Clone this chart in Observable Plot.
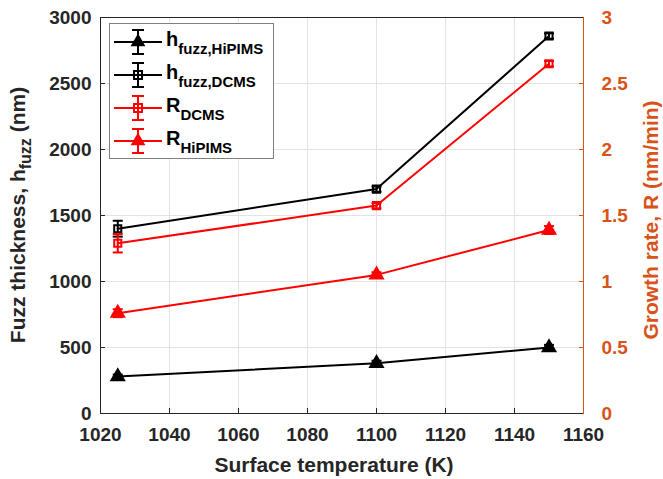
<!DOCTYPE html>
<html><head><meta charset="utf-8">
<script src="https://cdn.jsdelivr.net/npm/d3@7"></script>
<script src="https://cdn.jsdelivr.net/npm/@observablehq/plot@0.6"></script>
<style>body{margin:0;background:#fff}</style>
</head><body><div id="chart"></div>
<script>
const temps = [1025, 1100, 1150];
const hHiPIMS = [280, 380, 500];
const hHiPIMSErr = [15, 20, 20];
const hDCMS = [1400, 1700, 2860];
const hDCMSErr = [60, 20, 20];
const rDCMS = [1.29, 1.575, 2.65];
const rDCMSErr = [0.07, 0.02, 0.02];
const rHiPIMS = [0.76, 1.05, 1.39];
const rHiPIMSErr = [0.03, 0.02, 0.03];
const xTicks = [1020, 1040, 1060, 1080, 1100, 1120, 1140, 1160];
const yTicks = [0, 500, 1000, 1500, 2000, 2500, 3000];
const rTicks = [0, 0.5, 1, 1.5, 2, 2.5, 3];

const R2H = 1000; // right axis (nm/min) -> left axis (nm)
const ORANGE = "#D95319";
const INK = "#262626";

function rows(vals, errs, k) {
  return temps.map((t, i) => ({t, v: vals[i] * k, e: errs[i] * k}));
}
const series = [
  {name: "hH", data: rows(hHiPIMS, hHiPIMSErr, 1), color: "#000", symbol: "triangle"},
  {name: "hD", data: rows(hDCMS, hDCMSErr, 1), color: "#000", symbol: "square"},
  {name: "rD", data: rows(rDCMS, rDCMSErr, R2H), color: "#ff0000", symbol: "square"},
  {name: "rH", data: rows(rHiPIMS, rHiPIMSErr, R2H), color: "#ff0000", symbol: "triangle"}
];
const cap = {draw(ctx) { ctx.moveTo(-5, 0); ctx.lineTo(5, 0); }};

const marks = [
  Plot.gridX(xTicks, {stroke: "#e3e3e3", strokeOpacity: 1, strokeWidth: 1}),
  Plot.gridY(yTicks, {stroke: "#e3e3e3", strokeOpacity: 1, strokeWidth: 1}),
  Plot.axisX(xTicks, {tickSize: -5, tickPadding: 19, label: null, fontSize: 19, tickFormat: d => String(d), fill: INK, stroke: INK}),
  Plot.axisY(yTicks, {anchor: "left", tickSize: -5, tickPadding: 14, label: null, fontSize: 19, tickFormat: d => String(d), fill: INK, stroke: INK}),
  Plot.axisY(yTicks, {anchor: "right", tickSize: -5, tickPadding: 23, label: null, fontSize: 19,
    tickFormat: (d) => String(rTicks[yTicks.indexOf(d)]), color: ORANGE}),
  Plot.ruleY([0, 3000], {stroke: INK, strokeWidth: 1}),
  Plot.ruleX([1020], {stroke: INK, strokeWidth: 1}),
  Plot.ruleX([1160], {stroke: ORANGE, strokeWidth: 1})
];
for (const s of series) {
  marks.push(Plot.line(s.data, {x: "t", y: "v", stroke: s.color, strokeWidth: 2}));
  marks.push(Plot.ruleX(s.data, {x: "t", y1: d => d.v - d.e, y2: d => d.v + d.e, stroke: s.color, strokeWidth: 2}));
  marks.push(Plot.dot(s.data, {x: "t", y: d => d.v - d.e, symbol: cap, stroke: s.color, strokeWidth: 2}));
  marks.push(Plot.dot(s.data, {x: "t", y: d => d.v + d.e, symbol: cap, stroke: s.color, strokeWidth: 2}));
  if (s.symbol === "triangle") {
    marks.push(Plot.dot(s.data, {x: "t", y: "v", symbol: "triangle", fill: s.color, r: 6}));
  } else {
    marks.push(Plot.dot(s.data, {x: "t", y: "v", symbol: "square", fill: "none", stroke: s.color, strokeWidth: 2, r: 4}));
  }
}

const svg = Plot.plot({
  width: 663, height: 479,
  marginLeft: 100, marginRight: 80, marginTop: 17, marginBottom: 66,
  style: {fontFamily: "'Liberation Sans', Arial, sans-serif", fontWeight: "bold", fontSize: "19px", background: "#fff", overflow: "visible"},
  x: {domain: [1020, 1160]},
  y: {domain: [0, 3000]},
  marks
});
document.getElementById("chart").appendChild(svg);

const S = d3.select(svg);
const FONT = "'Liberation Sans', Arial, sans-serif";
// Axis titles
S.append("text").attr("x", 334).attr("y", 472).attr("text-anchor", "middle")
  .attr("font-family", FONT).attr("font-weight", "bold").attr("font-size", 21).attr("fill", INK)
  .text("Surface temperature (K)");
const lt = S.append("text").attr("transform", "translate(25,215) rotate(-90)").attr("text-anchor", "middle")
  .attr("font-family", FONT).attr("font-weight", "bold").attr("font-size", 21).attr("fill", INK);
lt.append("tspan").text("Fuzz thickness, h");
lt.append("tspan").attr("font-size", 16).attr("dy", 6).text("fuzz");
lt.append("tspan").attr("dy", -6).text(" (nm)");
S.append("text").attr("transform", "translate(658,220) rotate(-90)").attr("text-anchor", "middle")
  .attr("font-family", FONT).attr("font-weight", "bold").attr("font-size", 21).attr("fill", ORANGE)
  .text("Growth rate, R (nm/min)");

// Legend
const L = S.append("g").attr("text-anchor", "start");
L.append("rect").attr("x", 109.5).attr("y", 23.5).attr("width", 164).attr("height", 135)
  .attr("fill", "#fff").attr("stroke", "#808080").attr("stroke-width", 1);
const legendItems = [
  {s: series[0], main: "h", sub: "fuzz,HiPIMS", y: 42},
  {s: series[1], main: "h", sub: "fuzz,DCMS", y: 75},
  {s: series[2], main: "R", sub: "DCMS", y: 108},
  {s: series[3], main: "R", sub: "HiPIMS", y: 141}
];
for (const it of legendItems) {
  const c = it.s.color, cx = 138, y = it.y;
  L.append("line").attr("x1", 114).attr("x2", 162).attr("y1", y).attr("y2", y).attr("stroke", c).attr("stroke-width", 2);
  L.append("line").attr("x1", cx).attr("x2", cx).attr("y1", y - 12).attr("y2", y + 12).attr("stroke", c).attr("stroke-width", 2);
  L.append("line").attr("x1", cx - 6).attr("x2", cx + 6).attr("y1", y - 12).attr("y2", y - 12).attr("stroke", c).attr("stroke-width", 2);
  L.append("line").attr("x1", cx - 6).attr("x2", cx + 6).attr("y1", y + 12).attr("y2", y + 12).attr("stroke", c).attr("stroke-width", 2);
  if (it.s.symbol === "triangle") {
    L.append("path").attr("transform", `translate(${cx},${y})`).attr("d", d3.symbol(d3.symbolTriangle, 95)()).attr("fill", c);
  } else {
    L.append("rect").attr("x", cx - 4).attr("y", y - 4).attr("width", 8).attr("height", 8).attr("fill", "none").attr("stroke", c).attr("stroke-width", 2);
  }
  const t = L.append("text").attr("x", 166).attr("y", y + 4).attr("text-anchor", "start").attr("font-family", FONT).attr("font-weight", "bold")
    .attr("font-size", 20).attr("fill", "#000");
  t.append("tspan").text(it.main);
  t.append("tspan").attr("font-size", 15).attr("dy", 8).text(it.sub);
}
</script></body></html>
